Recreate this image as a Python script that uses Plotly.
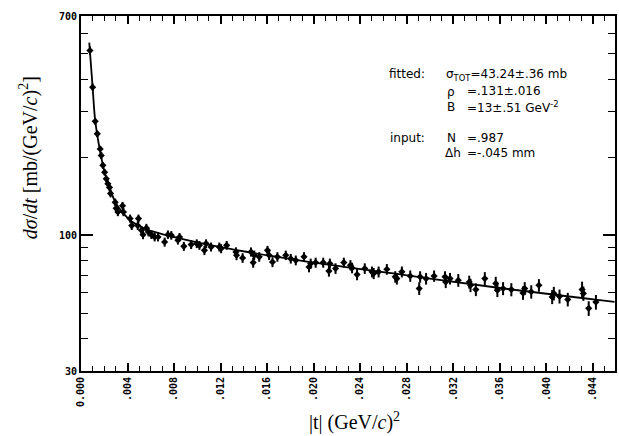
import math
import plotly.graph_objects as go

# measured differential cross section, |t| in (GeV/c)^2, dsigma/dt in mb/(GeV/c)^2
t_data = [0.00077, 0.00100, 0.00122, 0.00140, 0.00165, 0.00174, 0.00188, 0.00203,
          0.00217, 0.00231, 0.00245, 0.00254, 0.00294, 0.00302, 0.00317, 0.00357,
          0.00365, 0.00422, 0.00436, 0.00488, 0.00494, 0.00520, 0.00533, 0.00562,
          0.00580, 0.00605, 0.00633, 0.00662, 0.00719, 0.00747, 0.00776, 0.00833,
          0.00847, 0.00884, 0.00947, 0.00995, 0.01018, 0.01061, 0.01075, 0.01118,
          0.01189, 0.01204, 0.01252, 0.01332, 0.01337, 0.01389, 0.01461, 0.01480,
          0.01489, 0.01532, 0.01603, 0.01617, 0.01646, 0.01688, 0.01760, 0.01803,
          0.01846, 0.01917, 0.01960, 0.01974, 0.02017, 0.02082, 0.02131, 0.02139,
          0.02188, 0.02259, 0.02316, 0.02330, 0.02373, 0.02439, 0.02501, 0.02516,
          0.02558, 0.02629, 0.02701, 0.02715, 0.02758, 0.02830, 0.02907, 0.02915,
          0.02966, 0.03035, 0.03129, 0.03135, 0.03172, 0.03243, 0.03337, 0.03348,
          0.03394, 0.03471, 0.03565, 0.03579, 0.03628, 0.03699, 0.03799, 0.03814,
          0.03870, 0.03936, 0.04050, 0.04064, 0.04113, 0.04184, 0.04307, 0.04318,
          0.04364, 0.04426]
dsdt = [515, 372, 275, 246, 215, 203, 186, 175,
        165, 158, 153, 145, 134, 127, 123, 130,
        123, 116, 109, 109, 116, 104.5, 100.6, 106.7,
        103, 100.6, 98.5, 98.5, 94.2, 100.6, 100, 95.7,
        98.5, 90.7, 92.1, 92.9, 91.5, 87.5, 92.9, 90.2,
        90.2, 88.9, 91.5, 86.3, 83.8, 81.8, 86.3, 78.5,
        83.8, 82.6, 87.5, 83.8, 78.9, 82.6, 83.8, 81.3,
        80.1, 82.6, 75.5, 77.8, 78.5, 78.5, 72.8, 77.8,
        74.5, 78.5, 76.7, 74.9, 70.6, 74.5, 72.3, 71.3,
        72.3, 74.0, 69.2, 68.1, 72.3, 69.7, 62.4, 69.2,
        68.1, 69.7, 69.2, 66.1, 68.1, 67.1, 66.1, 64.2,
        61.8, 68.1, 65.2, 61.4, 62.4, 61.8, 60.0, 62.4,
        60.6, 64.2, 57.9, 59.7, 58.2, 56.6, 61.8, 59.7,
        52.3, 55.3]
dsdt_err = [20, 12, 8, 7, 6, 6, 5.5, 5,
            5, 5, 5, 5, 4.5, 4.5, 4.5, 4.5,
            4.5, 4.2, 4.2, 4.2, 4.2, 4.0, 4.0, 4.0,
            4.0, 3.8, 3.8, 3.8, 3.8, 3.8, 3.8, 3.6,
            3.6, 3.6, 3.6, 3.6, 3.6, 3.6, 3.6, 3.6,
            3.6, 3.6, 3.6, 3.6, 3.6, 3.5, 3.5, 3.5,
            3.5, 3.5, 3.5, 3.5, 3.5, 3.5, 3.5, 3.5,
            3.5, 3.5, 3.5, 3.5, 3.5, 3.5, 3.5, 3.5,
            3.5, 3.5, 3.5, 3.5, 3.5, 3.5, 3.5, 3.5,
            3.5, 3.5, 3.5, 3.5, 3.5, 3.5, 3.5, 3.5,
            3.5, 3.5, 3.5, 3.5, 3.5, 3.8, 3.8, 3.8,
            3.5, 4.0, 4.0, 3.6, 3.6, 3.6, 3.6, 3.6,
            3.6, 3.6, 3.6, 3.6, 3.6, 3.4, 4.5, 3.8,
            3.4, 3.6]

# fitted Coulomb-nuclear curve
t_fit = [0.00071, 0.00100, 0.00122, 0.00163, 0.00205, 0.00248, 0.00300, 0.00360,
         0.00436, 0.00548, 0.00676, 0.00847, 0.01189, 0.01874, 0.02730, 0.03585,
         0.04586]
dsdt_fit = [553, 372, 277, 212, 174, 151, 133, 122,
            113, 106, 101.8, 97.4, 90.3, 80.1, 70.8, 62.8,
            55.4]

x_tickvals = [0.000, 0.004, 0.008, 0.012, 0.016, 0.020, 0.024, 0.028, 0.032, 0.036, 0.040, 0.044]
x_ticktext = ["0.000", ".004", ".008", ".012", ".016", ".020", ".024", ".028", ".032", ".036", ".040", ".044"]
y_tickvals = [30, 100, 700]
y_ticktext = ["30", "100", "700"]
y_minor = [40, 50, 60, 70, 80, 90, 200, 300, 400, 500, 600]

W, H = 619, 436
L, R, T, B = 81, 2, 16, 65
pw, ph = W - L - R, H - T - B


def px(x):
    return (x - L) / pw


def py(y):
    return (H - B - y) / ph


fig = go.Figure()
fig.add_trace(go.Scatter(
    x=t_fit, y=dsdt_fit, mode="lines", line=dict(color="black", width=1.8, shape="spline"),
    hoverinfo="skip", showlegend=False))
fig.add_trace(go.Scatter(
    x=t_data, y=dsdt, mode="markers",
    marker=dict(symbol="diamond", size=5.5, color="black"),
    error_y=dict(type="data", array=dsdt_err, color="black", thickness=2, width=0),
    showlegend=False))

tick_font = dict(family="DejaVu Sans Mono", size=10, color="black", weight="bold")

fig.update_xaxes(
    range=[0, 0.0459], showgrid=False, zeroline=False,
    showline=True, linecolor="black", linewidth=2, mirror="ticks",
    tickvals=x_tickvals, ticktext=x_ticktext, tickangle=-90,
    ticks="inside", ticklen=8, tickwidth=1.5, tickcolor="black", tickfont=tick_font,
    minor=dict(dtick=0.001, tick0=0, ticks="inside", ticklen=5, tickwidth=1.3, tickcolor="black"),
)
fig.update_yaxes(
    type="log", range=[math.log10(30), math.log10(700)], showgrid=False, zeroline=False,
    showline=True, linecolor="black", linewidth=2, mirror="ticks",
    tickvals=y_tickvals, ticktext=y_ticktext,
    ticks="inside", ticklen=12, tickwidth=1.5, tickcolor="black", tickfont=tick_font,
    minor=dict(tickvals=y_minor, ticks="inside", ticklen=7, tickwidth=1.3, tickcolor="black"),
)

serif = dict(family="Liberation Serif", size=20, color="black")
plot_font = dict(family="DejaVu Sans", size=12, color="black")

annotations = [
    dict(x=px(28), y=py(158), text="<i>dσ</i>/<i>dt</i> [mb/(GeV/<i>c</i>)<sup>2</sup>]",
         textangle=-90, font=serif, xanchor="center", yanchor="middle"),
    dict(x=px(356), y=py(421), text="|t| (GeV/<i>c</i>)<sup>2</sup>",
         font=serif, xanchor="center", yanchor="middle"),
    dict(x=px(388), y=py(74), text="fitted:", font=plot_font, xanchor="left", yanchor="middle"),
    dict(x=px(445), y=py(75), text="σ<sub>TOT</sub>=43.24±.36 mb", font=plot_font,
         xanchor="left", yanchor="middle"),
    dict(x=px(446), y=py(92), text="ρ", font=plot_font, xanchor="left", yanchor="middle"),
    dict(x=px(466), y=py(91), text="=.131±.016", font=plot_font, xanchor="left", yanchor="middle"),
    dict(x=px(446), y=py(107), text="B", font=plot_font, xanchor="left", yanchor="middle"),
    dict(x=px(466), y=py(107), text="=13±.51 GeV<sup>-2</sup>", font=plot_font, xanchor="left", yanchor="middle"),
    dict(x=px(389), y=py(138), text="input:", font=plot_font, xanchor="left", yanchor="middle"),
    dict(x=px(446), y=py(138), text="N", font=plot_font, xanchor="left", yanchor="middle"),
    dict(x=px(466), y=py(138), text="=.987", font=plot_font, xanchor="left", yanchor="middle"),
    dict(x=px(444), y=py(153), text="Δh", font=plot_font, xanchor="left", yanchor="middle"),
    dict(x=px(466), y=py(153), text="=-.045 mm", font=plot_font, xanchor="left", yanchor="middle"),
]
for a in annotations:
    a.update(xref="paper", yref="paper", showarrow=False)

fig.update_layout(
    width=W, height=H, margin=dict(l=L, r=R, t=T, b=B),
    paper_bgcolor="white", plot_bgcolor="white",
    annotations=annotations, showlegend=False,
)

fig.write_html("out.html")
